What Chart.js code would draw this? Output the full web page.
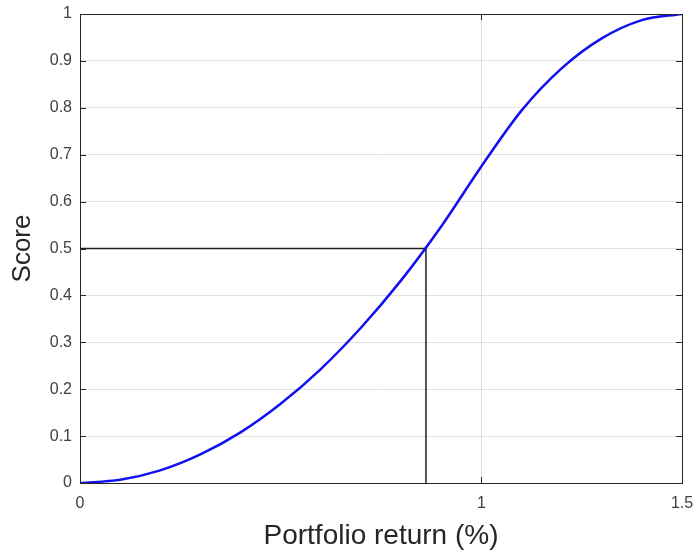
<!DOCTYPE html>
<html>
<head>
<meta charset="utf-8">
<script src="https://cdn.jsdelivr.net/npm/chart.js@4/dist/chart.umd.min.js"></script>
<style>
  html, body { margin: 0; padding: 0; background: #fff; }
  #wrap { width: 697px; height: 553px; }
</style>
</head>
<body>
<div id="wrap"><canvas id="myChart" width="697" height="553"></canvas></div>
<script>
// values
var returns = [0, 0.1, 0.2, 0.3, 0.4, 0.5, 0.6, 0.7, 0.8, 0.9, 1.0, 1.1, 1.2, 1.3, 1.4, 1.5];
var scores  = [0, 0.007, 0.027, 0.061, 0.108, 0.169, 0.243, 0.331, 0.432, 0.547, 0.675, 0.794, 0.884, 0.948, 0.987, 1.0];
var markerX = [0, 0.862, 0.862];
var markerY = [0.5, 0.5, 0];
var xTicks = [0, 1, 1.5];
var xTickLabels = ['0', '1', '1.5'];
var yTicks = [0, 0.1, 0.2, 0.3, 0.4, 0.5, 0.6, 0.7, 0.8, 0.9, 1];
var yTickLabels = ['0', '0.1', '0.2', '0.3', '0.4', '0.5', '0.6', '0.7', '0.8', '0.9', '1'];

var axisColor = '#262626';
var font = 'Liberation Sans, Arial, Helvetica, sans-serif';

function toPoints(xs, ys) {
    return xs.map(function(x, i) { return { x: x, y: ys[i] }; });
}

function setTicks(values, labels) {
    return function(scale) {
        scale.ticks = values.map(function(v, i) { return { value: v, label: labels[i] }; });
    };
}

function labelFor(values, labels) {
    return function(value) {
        var i = values.findIndex(function(v) { return Math.abs(v - value) < 1e-9; });
        return i >= 0 ? labels[i] : '';
    };
}

// box round the axes, with inward tick marks on all sides
var boxPlugin = {
    id: 'box',
    afterDatasetsDraw: function(chart) {
        var ctx = chart.ctx, a = chart.chartArea;
        var xs = chart.scales.x, ys = chart.scales.y;
        ctx.save();
        ctx.strokeStyle = axisColor;
        ctx.lineWidth = 1;
        ctx.beginPath();
        yTicks.forEach(function(v) {
            var py = Math.round(ys.getPixelForValue(v)) + 0.5;
            ctx.moveTo(a.left, py); ctx.lineTo(a.left + 6, py);
            ctx.moveTo(a.right, py); ctx.lineTo(a.right - 6, py);
        });
        xTicks.forEach(function(v) {
            var px = Math.round(xs.getPixelForValue(v)) + 0.5;
            ctx.moveTo(px, a.bottom); ctx.lineTo(px, a.bottom - 6);
            ctx.moveTo(px, a.top); ctx.lineTo(px, a.top + 6);
        });
        ctx.stroke();
        ctx.strokeRect(Math.round(a.left) + 0.5, Math.round(a.top) + 0.5,
                       Math.round(a.right - a.left), Math.round(a.bottom - a.top));
        ctx.restore();
    }
};

new Chart(document.getElementById('myChart').getContext('2d'), {
    type: 'line',
    data: {
        datasets: [{
            data: toPoints(returns, scores),
            borderColor: '#1010f0',
            borderWidth: 2.5,
            pointRadius: 0,
            fill: false,
            cubicInterpolationMode: 'monotone'
        }, {
            data: toPoints(markerX, markerY),
            borderColor: '#202020',
            borderWidth: 1.5,
            pointRadius: 0,
            fill: false,
            tension: 0
        }]
    },
    options: {
        responsive: false,
        animation: false,
        layout: { padding: { left: 0, right: 15, top: 14, bottom: 0 } },
        plugins: { legend: { display: false }, tooltip: { enabled: false } },
        scales: {
            x: {
                type: 'linear',
                min: 0,
                max: 1.5,
                afterBuildTicks: setTicks(xTicks, xTickLabels),
                afterFit: function(scale) {
                    scale.height = 70;
                    scale.paddingLeft = 0;
                    scale.paddingRight = 0;
                },
                grid: {
                    color: function(c) { return (c.tick && c.tick.value === 1) ? '#dcdcdc' : 'rgba(0,0,0,0)'; },
                    drawTicks: false
                },
                border: { color: axisColor, width: 1 },
                ticks: {
                    color: '#404040',
                    font: { family: font, size: 16 },
                    padding: 11,
                    maxRotation: 0,
                    autoSkip: false,
                    callback: labelFor(xTicks, xTickLabels)
                },
                title: {
                    display: true,
                    text: 'Portfolio return (%)',
                    color: axisColor,
                    font: { family: font, size: 28 },
                    padding: { top: 3, bottom: 0 }
                }
            },
            y: {
                type: 'linear',
                min: 0,
                max: 1,
                afterBuildTicks: setTicks(yTicks, yTickLabels),
                afterFit: function(scale) {
                    scale.width = 80;
                    scale.paddingTop = 0;
                    scale.paddingBottom = 0;
                },
                grid: {
                    color: function(c) { return (c.tick && c.tick.value > 0 && c.tick.value < 1) ? '#e2e2e2' : 'rgba(0,0,0,0)'; },
                    drawTicks: false
                },
                border: { color: axisColor, width: 1 },
                ticks: {
                    color: '#404040',
                    font: { family: font, size: 16 },
                    padding: 8,
                    autoSkip: false,
                    callback: labelFor(yTicks, yTickLabels)
                },
                title: {
                    display: true,
                    text: 'Score',
                    color: axisColor,
                    font: { family: font, size: 26 },
                    padding: { top: 7, bottom: 0 }
                }
            }
        }
    },
    plugins: [boxPlugin]
});
</script>
</body>
</html>
